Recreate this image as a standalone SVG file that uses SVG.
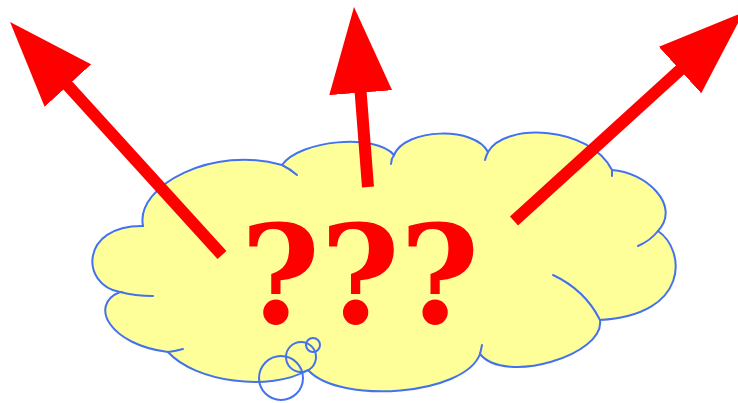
<svg xmlns="http://www.w3.org/2000/svg" width="738" height="403" viewBox="0 0 738 403">
  <style>
    .cloud { fill: #ffff99; stroke: #4472ee; stroke-width: 2; }
    .line { fill: none; stroke: #4472ee; stroke-width: 2; stroke-linecap: round; }
    .arrow { fill: none; stroke: #ff0000; stroke-width: 12; stroke-linecap: butt; marker-end: url(#head); }
    .q { fill: #ff0000; font-family: "DejaVu Serif", "Liberation Serif", serif; font-weight: bold; font-size: 136px; }
  </style>
  <defs>
    <marker id="head" viewBox="0 0 86 63" markerWidth="86" markerHeight="63" markerUnits="userSpaceOnUse" refX="10" refY="31.5" orient="auto">
      <path d="M0,0 L86,31.5 L0,63 Z" fill="#ff0000"/>
    </marker>
  </defs>
  <g id="cloud">
    <path class="cloud" d="M143,226 C135,185 215,145 282,165 C300,140 375,133 394,155 C405,128 475,126 488,152 C505,122 590,126 612,170 C645,172 682,205 658,231 C686,250 690,315 600,320 C605,355 505,385 480,354 C465,395 340,405 308,370 C270,392 195,382 168,352 C110,345 88,305 120,292 C80,285 80,225 143,226 Z"/>
    <path class="line" d="M120,292 Q135,296 153,296"/>
    <path class="line" d="M168,352 Q176,351 183,349"/>
    <path class="line" d="M282,165 Q290,169 297,175"/>
    <path class="line" d="M394,155 Q391,159 391,164"/>
    <path class="line" d="M488,152 Q486,156 485,160"/>
    <path class="line" d="M612,170 L612,176"/>
    <path class="line" d="M658,231 Q650,241 638,246"/>
    <path class="line" d="M600,320 Q585,290 553,275"/>
    <path class="line" d="M480,354 Q481,350 482,345"/>
    <circle class="line" cx="281" cy="378" r="22"/>
    <circle class="line" cx="301" cy="357" r="15"/>
    <circle class="line" cx="313" cy="345" r="7"/>
  </g>
  <g id="connectors">
    <path class="arrow" d="M222,255 L61.2,78.2"/>
    <path class="arrow" d="M368,187 L359.9,82.7"/>
    <path class="arrow" d="M514,221 L687.4,63.3"/>
  </g>
  <g id="label">
    <text class="q" x="360" y="323" text-anchor="middle">???</text>
  </g>
</svg>
